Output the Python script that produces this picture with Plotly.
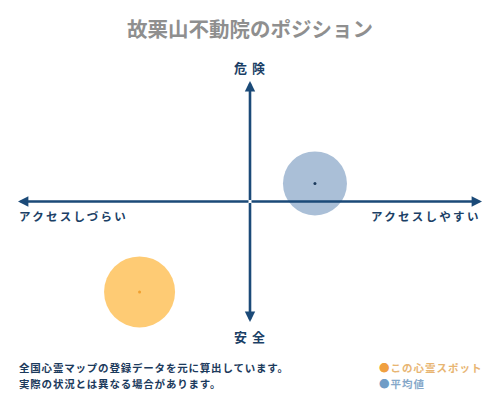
import plotly.graph_objects as go

# Data
series_names = ["この心霊スポット", "平均値"]
x_access = [-0.476, 0.28]     # アクセスしづらい(-) ~ アクセスしやすい(+)
y_danger = [-0.75, 0.15]      # 安全(-) ~ 危険(+)
bubble_px = [71, 64]
fill_colors = ["#fecb74", "#aabfd7"]
dot_colors = ["#f0a030", "#1b3a5c"]
legend_colors = ["#f0a040", "#6f9cc6"]
legend_text_colors = ["#e8b572", "#86a8c9"]

title_text = "故栗山不動院のポジション"
axis_labels = {"top": "危 険", "bottom": "安 全",
               "left": "アクセスしづらい", "right": "アクセスしやすい"}
note_lines = ["全国心霊マップの登録データを元に算出しています。",
              "実際の状況とは異なる場合があります。"]

FONT = "Noto Sans CJK JP"
AXIS_COLOR = "#1b4a78"

OFF = 8
W, H = 500, 400
L, T = 18 - OFF, 81 - OFF
R = W - (482 - OFF)
B = H - (322 - OFF)
PW, PH = W - L - R, H - T - B

fig = go.Figure()
for i in range(len(series_names)):
    fig.add_trace(go.Scatter(
        x=[x_access[i]], y=[y_danger[i]], mode="markers",
        marker=dict(size=bubble_px[i], color=fill_colors[i], line=dict(width=0)),
        hoverinfo="skip", showlegend=False, cliponaxis=False))
    fig.add_trace(go.Scatter(
        x=[x_access[i]], y=[y_danger[i]], mode="markers",
        marker=dict(size=3, color=dot_colors[i], line=dict(width=0)),
        hoverinfo="skip", showlegend=False, cliponaxis=False))

ann = []
for (ex, ey) in [(1, 0), (-1, 0), (0, 1), (0, -1)]:
    ann.append(dict(x=ex, y=ey, ax=0, ay=0, xref="x", yref="y", axref="x", ayref="y",
                    showarrow=True, arrowhead=2, arrowsize=0.8, arrowwidth=2.6,
                    arrowcolor=AXIS_COLOR, text=""))

def ptext(text, x, y, size, color, xanchor="center", spacing=0):
    t = f"<b>{text}</b>"
    if spacing:
        t = f"<span style='letter-spacing:{spacing}px'>{t}</span>"
    fx, fy = x - OFF, y - OFF
    return dict(text=t, x=(fx - L) / PW, y=1 - (fy - T) / PH, xref="paper", yref="paper",
                xanchor=xanchor, yanchor="middle", showarrow=False,
                font=dict(family=FONT, size=size, color=color))

ann.append(ptext(title_text, 250, 28, 20.5, "#8f8f8f"))
ann.append(ptext(axis_labels["top"], 250, 67, 13, "#1b3f66", spacing=1))
ann.append(ptext(axis_labels["bottom"], 250, 336, 13, "#1b3f66", spacing=1))
ann.append(ptext(axis_labels["left"], 17, 216, 11.5, "#1b3f66", "left", spacing=2.3))
ann.append(ptext(axis_labels["right"], 483, 216, 11.5, "#1b3f66", "right", spacing=2.3))
ann.append(ptext(note_lines[0], 17, 367, 10.5, "#1b3a5c", "left", spacing=0.8))
ann.append(ptext(note_lines[1], 17, 383, 10.5, "#1b3a5c", "left", spacing=0.8))
for i, name in enumerate(series_names):
    yy = 367 + 16 * i
    ann.append(ptext(f"<span style='color:{legend_colors[i]}'>●</span>{name}",
                     377, yy, 10.5, legend_text_colors[i], "left", spacing=1))

fig.update_layout(
    width=W, height=H,
    margin=dict(l=L, r=R, t=T, b=B),
    paper_bgcolor="white", plot_bgcolor="white",
    xaxis=dict(range=[-1, 1], visible=False, fixedrange=True),
    yaxis=dict(range=[-1, 1], visible=False, fixedrange=True),
    annotations=ann,
    showlegend=False,
)
fig.write_html("out.html")
